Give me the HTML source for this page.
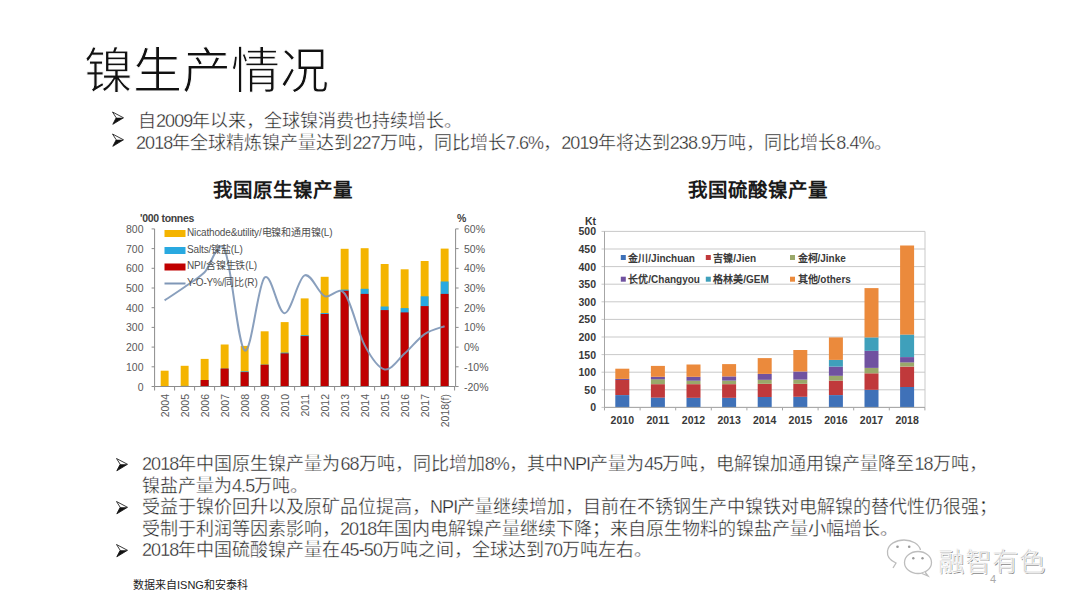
<!DOCTYPE html>
<html lang="zh-CN"><head><meta charset="utf-8">
<style>
html,body{margin:0;padding:0;background:#fff;}
body{width:1080px;height:608px;position:relative;overflow:hidden;font-family:"Liberation Sans",sans-serif;color:#1a1a1a;}
.abs{position:absolute;white-space:nowrap;}
.title{left:84px;top:41px;font-size:49px;font-weight:400;-webkit-text-stroke:1px #fff;color:#111;line-height:60px;letter-spacing:0px;}
.b{font-size:18px;line-height:22px;color:#1e1e1e;-webkit-text-stroke:0.35px #fff;}
.n{letter-spacing:-0.9px;}
.arr{position:absolute;width:12px;height:12px;}
svg{position:absolute;left:0;top:0;}
.lax{font-size:10.5px;fill:#595959;}
.lleg{font-size:10px;fill:#505050;letter-spacing:-0.15px;}
.lunit{font-size:10.5px;font-weight:bold;fill:#404040;letter-spacing:-0.3px;}
.ctitle{font-size:19.5px;font-weight:bold;color:#1a1a1a;line-height:22px;}
.rax{font-size:10.5px;font-weight:bold;fill:#383838;}
.rleg{font-size:10px;font-weight:bold;fill:#3a3a3a;}
.sf{font-family:"Liberation Serif",serif;font-weight:bold;}
.foot{left:133px;top:575.5px;font-size:11px;color:#222;}
.wm{left:938px;top:541px;font-size:26px;color:#cdcdcd;letter-spacing:1px;text-shadow:0.7px 0.7px 0 #888;-webkit-text-stroke:0.8px #fff;}
.pg{left:990px;top:573px;font-size:11px;color:#aaa;}
</style></head><body>
<div class="abs title">镍生产情况</div>
<svg width="1080" height="608" viewBox="0 0 1080 608">

<g transform="translate(112,111.5)"><path d="M0.5,0.5 L11.5,6.3 L0.8,12.8 L4.2,6.3 Z" fill="#fff" stroke="#222" stroke-width="0.9" stroke-linejoin="round"/><path d="M4.2,6.3 L11.5,6.3 L0.8,12.8 Z" fill="#111"/></g>
<g transform="translate(112,133.5)"><path d="M0.5,0.5 L11.5,6.3 L0.8,12.8 L4.2,6.3 Z" fill="#fff" stroke="#222" stroke-width="0.9" stroke-linejoin="round"/><path d="M4.2,6.3 L11.5,6.3 L0.8,12.8 Z" fill="#111"/></g>
<g transform="translate(116,458)"><path d="M0.5,0.5 L11.5,6.3 L0.8,12.8 L4.2,6.3 Z" fill="#fff" stroke="#222" stroke-width="0.9" stroke-linejoin="round"/><path d="M4.2,6.3 L11.5,6.3 L0.8,12.8 Z" fill="#111"/></g>
<g transform="translate(116,501)"><path d="M0.5,0.5 L11.5,6.3 L0.8,12.8 L4.2,6.3 Z" fill="#fff" stroke="#222" stroke-width="0.9" stroke-linejoin="round"/><path d="M4.2,6.3 L11.5,6.3 L0.8,12.8 Z" fill="#111"/></g>
<g transform="translate(116,544)"><path d="M0.5,0.5 L11.5,6.3 L0.8,12.8 L4.2,6.3 Z" fill="#fff" stroke="#222" stroke-width="0.9" stroke-linejoin="round"/><path d="M4.2,6.3 L11.5,6.3 L0.8,12.8 Z" fill="#111"/></g>
<rect x="160.7" y="370.7" width="7.9" height="15.8" fill="#F4B400"/>
<rect x="180.7" y="365.8" width="7.9" height="20.7" fill="#F4B400"/>
<rect x="180.7" y="385.9" width="7.9" height="0.6" fill="#29A9E0"/>
<rect x="180.7" y="386.1" width="7.9" height="0.4" fill="#C00000"/>
<rect x="200.7" y="358.9" width="7.9" height="27.6" fill="#F4B400"/>
<rect x="200.7" y="380" width="7.9" height="6.5" fill="#29A9E0"/>
<rect x="200.7" y="380" width="7.9" height="6.5" fill="#C00000"/>
<rect x="220.7" y="344.5" width="7.9" height="42" fill="#F4B400"/>
<rect x="220.7" y="368.6" width="7.9" height="17.9" fill="#29A9E0"/>
<rect x="220.7" y="368.6" width="7.9" height="17.9" fill="#C00000"/>
<rect x="240.7" y="345.9" width="7.9" height="40.6" fill="#F4B400"/>
<rect x="240.7" y="371.3" width="7.9" height="15.2" fill="#29A9E0"/>
<rect x="240.7" y="372.1" width="7.9" height="14.4" fill="#C00000"/>
<rect x="260.7" y="331.3" width="7.9" height="55.2" fill="#F4B400"/>
<rect x="260.7" y="364.6" width="7.9" height="21.9" fill="#29A9E0"/>
<rect x="260.7" y="364.8" width="7.9" height="21.7" fill="#C00000"/>
<rect x="280.7" y="322.1" width="7.9" height="64.4" fill="#F4B400"/>
<rect x="280.7" y="352.6" width="7.9" height="33.9" fill="#29A9E0"/>
<rect x="280.7" y="353.4" width="7.9" height="33.1" fill="#C00000"/>
<rect x="300.7" y="298.4" width="7.9" height="88.1" fill="#F4B400"/>
<rect x="300.7" y="335.1" width="7.9" height="51.4" fill="#29A9E0"/>
<rect x="300.7" y="336.1" width="7.9" height="50.4" fill="#C00000"/>
<rect x="320.7" y="276.8" width="7.9" height="109.7" fill="#F4B400"/>
<rect x="320.7" y="313" width="7.9" height="73.5" fill="#29A9E0"/>
<rect x="320.7" y="314" width="7.9" height="72.5" fill="#C00000"/>
<rect x="340.7" y="248.8" width="7.9" height="137.7" fill="#F4B400"/>
<rect x="340.7" y="289.6" width="7.9" height="96.9" fill="#29A9E0"/>
<rect x="340.7" y="290.8" width="7.9" height="95.7" fill="#C00000"/>
<rect x="360.7" y="248.2" width="7.9" height="138.3" fill="#F4B400"/>
<rect x="360.7" y="288.8" width="7.9" height="97.7" fill="#29A9E0"/>
<rect x="360.7" y="293.9" width="7.9" height="92.6" fill="#C00000"/>
<rect x="380.7" y="264" width="7.9" height="122.5" fill="#F4B400"/>
<rect x="380.7" y="306.5" width="7.9" height="80" fill="#29A9E0"/>
<rect x="380.7" y="310.1" width="7.9" height="76.4" fill="#C00000"/>
<rect x="400.7" y="269.3" width="7.9" height="117.2" fill="#F4B400"/>
<rect x="400.7" y="308.1" width="7.9" height="78.4" fill="#29A9E0"/>
<rect x="400.7" y="312.4" width="7.9" height="74.1" fill="#C00000"/>
<rect x="420.7" y="261" width="7.9" height="125.5" fill="#F4B400"/>
<rect x="420.7" y="296.3" width="7.9" height="90.2" fill="#29A9E0"/>
<rect x="420.7" y="306.1" width="7.9" height="80.4" fill="#C00000"/>
<rect x="440.7" y="248.6" width="7.9" height="137.9" fill="#F4B400"/>
<rect x="440.7" y="281.5" width="7.9" height="105" fill="#29A9E0"/>
<rect x="440.7" y="293.9" width="7.9" height="92.6" fill="#C00000"/>
<line x1="154.6" y1="228.9" x2="154.6" y2="386.5" stroke="#8C8C8C" stroke-width="1"/>
<line x1="154.6" y1="386.5" x2="455.6" y2="386.5" stroke="#8C8C8C" stroke-width="1"/>
<line x1="455.6" y1="228.9" x2="455.6" y2="386.5" stroke="#8C8C8C" stroke-width="1"/>
<line x1="151.6" y1="386.5" x2="154.6" y2="386.5" stroke="#8C8C8C"/>
<line x1="455.6" y1="386.5" x2="458.6" y2="386.5" stroke="#8C8C8C"/>
<text x="143.5" y="390.5" text-anchor="end" class="lax">0</text>
<text x="464" y="390.5" class="lax">-20%</text>
<line x1="151.6" y1="366.8" x2="154.6" y2="366.8" stroke="#8C8C8C"/>
<line x1="455.6" y1="366.8" x2="458.6" y2="366.8" stroke="#8C8C8C"/>
<text x="143.5" y="370.8" text-anchor="end" class="lax">100</text>
<text x="464" y="370.8" class="lax">-10%</text>
<line x1="151.6" y1="347.1" x2="154.6" y2="347.1" stroke="#8C8C8C"/>
<line x1="455.6" y1="347.1" x2="458.6" y2="347.1" stroke="#8C8C8C"/>
<text x="143.5" y="351.1" text-anchor="end" class="lax">200</text>
<text x="464" y="351.1" class="lax">0%</text>
<line x1="151.6" y1="327.4" x2="154.6" y2="327.4" stroke="#8C8C8C"/>
<line x1="455.6" y1="327.4" x2="458.6" y2="327.4" stroke="#8C8C8C"/>
<text x="143.5" y="331.4" text-anchor="end" class="lax">300</text>
<text x="464" y="331.4" class="lax">10%</text>
<line x1="151.6" y1="307.7" x2="154.6" y2="307.7" stroke="#8C8C8C"/>
<line x1="455.6" y1="307.7" x2="458.6" y2="307.7" stroke="#8C8C8C"/>
<text x="143.5" y="311.7" text-anchor="end" class="lax">400</text>
<text x="464" y="311.7" class="lax">20%</text>
<line x1="151.6" y1="288" x2="154.6" y2="288" stroke="#8C8C8C"/>
<line x1="455.6" y1="288" x2="458.6" y2="288" stroke="#8C8C8C"/>
<text x="143.5" y="292" text-anchor="end" class="lax">500</text>
<text x="464" y="292" class="lax">30%</text>
<line x1="151.6" y1="268.3" x2="154.6" y2="268.3" stroke="#8C8C8C"/>
<line x1="455.6" y1="268.3" x2="458.6" y2="268.3" stroke="#8C8C8C"/>
<text x="143.5" y="272.3" text-anchor="end" class="lax">600</text>
<text x="464" y="272.3" class="lax">40%</text>
<line x1="151.6" y1="248.6" x2="154.6" y2="248.6" stroke="#8C8C8C"/>
<line x1="455.6" y1="248.6" x2="458.6" y2="248.6" stroke="#8C8C8C"/>
<text x="143.5" y="252.6" text-anchor="end" class="lax">700</text>
<text x="464" y="252.6" class="lax">50%</text>
<line x1="151.6" y1="228.9" x2="154.6" y2="228.9" stroke="#8C8C8C"/>
<line x1="455.6" y1="228.9" x2="458.6" y2="228.9" stroke="#8C8C8C"/>
<text x="143.5" y="232.9" text-anchor="end" class="lax">800</text>
<text x="464" y="232.9" class="lax">60%</text>
<line x1="154.6" y1="386.5" x2="154.6" y2="390.5" stroke="#8C8C8C"/>
<line x1="174.6" y1="386.5" x2="174.6" y2="390.5" stroke="#8C8C8C"/>
<line x1="194.6" y1="386.5" x2="194.6" y2="390.5" stroke="#8C8C8C"/>
<line x1="214.6" y1="386.5" x2="214.6" y2="390.5" stroke="#8C8C8C"/>
<line x1="234.6" y1="386.5" x2="234.6" y2="390.5" stroke="#8C8C8C"/>
<line x1="254.6" y1="386.5" x2="254.6" y2="390.5" stroke="#8C8C8C"/>
<line x1="274.6" y1="386.5" x2="274.6" y2="390.5" stroke="#8C8C8C"/>
<line x1="294.6" y1="386.5" x2="294.6" y2="390.5" stroke="#8C8C8C"/>
<line x1="314.6" y1="386.5" x2="314.6" y2="390.5" stroke="#8C8C8C"/>
<line x1="334.6" y1="386.5" x2="334.6" y2="390.5" stroke="#8C8C8C"/>
<line x1="354.6" y1="386.5" x2="354.6" y2="390.5" stroke="#8C8C8C"/>
<line x1="374.6" y1="386.5" x2="374.6" y2="390.5" stroke="#8C8C8C"/>
<line x1="394.6" y1="386.5" x2="394.6" y2="390.5" stroke="#8C8C8C"/>
<line x1="414.6" y1="386.5" x2="414.6" y2="390.5" stroke="#8C8C8C"/>
<line x1="434.6" y1="386.5" x2="434.6" y2="390.5" stroke="#8C8C8C"/>
<line x1="454.6" y1="386.5" x2="454.6" y2="390.5" stroke="#8C8C8C"/>
<text transform="translate(168.6,394) rotate(-90)" text-anchor="end" class="lax">2004</text>
<text transform="translate(188.6,394) rotate(-90)" text-anchor="end" class="lax">2005</text>
<text transform="translate(208.6,394) rotate(-90)" text-anchor="end" class="lax">2006</text>
<text transform="translate(228.6,394) rotate(-90)" text-anchor="end" class="lax">2007</text>
<text transform="translate(248.6,394) rotate(-90)" text-anchor="end" class="lax">2008</text>
<text transform="translate(268.6,394) rotate(-90)" text-anchor="end" class="lax">2009</text>
<text transform="translate(288.6,394) rotate(-90)" text-anchor="end" class="lax">2010</text>
<text transform="translate(308.6,394) rotate(-90)" text-anchor="end" class="lax">2011</text>
<text transform="translate(328.6,394) rotate(-90)" text-anchor="end" class="lax">2012</text>
<text transform="translate(348.6,394) rotate(-90)" text-anchor="end" class="lax">2013</text>
<text transform="translate(368.6,394) rotate(-90)" text-anchor="end" class="lax">2014</text>
<text transform="translate(388.6,394) rotate(-90)" text-anchor="end" class="lax">2015</text>
<text transform="translate(408.6,394) rotate(-90)" text-anchor="end" class="lax">2016</text>
<text transform="translate(428.6,394) rotate(-90)" text-anchor="end" class="lax">2017</text>
<text transform="translate(448.6,394) rotate(-90)" text-anchor="end" class="lax">2018(f)</text>
<path d="M164.6,300.4 C167.9,298.2 177.9,291.7 184.6,287 C191.3,282.3 197.9,278.5 204.6,272.2 C211.3,266 217.9,236.6 224.6,249.6 C231.3,262.6 237.9,345.8 244.6,350.4 C251.3,355.1 257.9,283.8 264.6,277.6 C271.3,271.4 277.9,313.6 284.6,313.2 C291.3,312.9 297.9,278.2 304.6,275.4 C311.3,272.5 317.9,293.1 324.6,296.1 C331.3,299.1 337.9,285.3 344.6,293.5 C351.3,301.7 357.9,332.5 364.6,345.1 C371.3,357.8 377.9,367.9 384.6,369.4 C391.3,370.8 397.9,359.5 404.6,353.6 C411.3,347.7 417.9,338.7 424.6,334.1 C431.3,329.5 441.3,327.5 444.6,326.2" fill="none" stroke="#7F97B7" stroke-width="2" stroke-opacity="0.92"/>
<rect x="164.5" y="230" width="21" height="7" fill="#F4B400"/>
<rect x="164.5" y="247" width="21" height="7" fill="#29A9E0"/>
<rect x="164.5" y="263.5" width="21" height="7" fill="#C00000"/>
<line x1="164.5" y1="283.5" x2="185.5" y2="283.5" stroke="#7F97B7" stroke-width="2"/>
<text x="187" y="235.5" class="lleg">Nicathode&amp;utility/电镍和通用镍(L)</text>
<text x="187" y="252.5" class="lleg">Salts/镍盐(L)</text>
<text x="187" y="269" class="lleg">NPI/含镍生铁(L)</text>
<text x="187" y="285.5" class="lleg">Y-O-Y%/同比(R)</text>
<text x="140" y="222" class="lunit">'000 tonnes</text>
<text x="457" y="222" class="lunit">%</text>
<line x1="601.5" y1="407.4" x2="925" y2="407.4" stroke="#C9C9C9" stroke-width="1"/>
<text x="596" y="411.4" text-anchor="end" class="rax">0</text>
<line x1="601.5" y1="389.8" x2="925" y2="389.8" stroke="#C9C9C9" stroke-width="1"/>
<text x="596" y="393.8" text-anchor="end" class="rax">50</text>
<line x1="601.5" y1="372.2" x2="925" y2="372.2" stroke="#C9C9C9" stroke-width="1"/>
<text x="596" y="376.2" text-anchor="end" class="rax">100</text>
<line x1="601.5" y1="354.6" x2="925" y2="354.6" stroke="#C9C9C9" stroke-width="1"/>
<text x="596" y="358.6" text-anchor="end" class="rax">150</text>
<line x1="601.5" y1="337" x2="925" y2="337" stroke="#C9C9C9" stroke-width="1"/>
<text x="596" y="341" text-anchor="end" class="rax">200</text>
<line x1="601.5" y1="319.4" x2="925" y2="319.4" stroke="#C9C9C9" stroke-width="1"/>
<text x="596" y="323.4" text-anchor="end" class="rax">250</text>
<line x1="601.5" y1="301.8" x2="925" y2="301.8" stroke="#C9C9C9" stroke-width="1"/>
<text x="596" y="305.8" text-anchor="end" class="rax">300</text>
<line x1="601.5" y1="284.2" x2="925" y2="284.2" stroke="#C9C9C9" stroke-width="1"/>
<text x="596" y="288.2" text-anchor="end" class="rax">350</text>
<line x1="601.5" y1="266.6" x2="925" y2="266.6" stroke="#C9C9C9" stroke-width="1"/>
<text x="596" y="270.6" text-anchor="end" class="rax">400</text>
<line x1="601.5" y1="249" x2="925" y2="249" stroke="#C9C9C9" stroke-width="1"/>
<text x="596" y="253" text-anchor="end" class="rax">450</text>
<line x1="601.5" y1="231.4" x2="925" y2="231.4" stroke="#C9C9C9" stroke-width="1"/>
<text x="596" y="235.4" text-anchor="end" class="rax">500</text>
<line x1="925" y1="231.4" x2="925" y2="407.4" stroke="#C9C9C9"/>
<rect x="615.3" y="395.1" width="14" height="12.3" fill="#3F71B8"/>
<rect x="615.3" y="379.9" width="14" height="15.1" fill="#C0393B"/>
<rect x="615.3" y="378.9" width="14" height="1.1" fill="#7052A0"/>
<rect x="615.3" y="368.7" width="14" height="10.2" fill="#EB8A3C"/>
<text x="622.3" y="424" text-anchor="middle" class="rax">2010</text>
<rect x="650.9" y="397.5" width="14" height="9.9" fill="#3F71B8"/>
<rect x="650.9" y="384.2" width="14" height="13.4" fill="#C0393B"/>
<rect x="650.9" y="379.2" width="14" height="4.9" fill="#9AA86A"/>
<rect x="650.9" y="376.8" width="14" height="2.5" fill="#7052A0"/>
<rect x="650.9" y="365.9" width="14" height="10.9" fill="#EB8A3C"/>
<text x="657.9" y="424" text-anchor="middle" class="rax">2011</text>
<rect x="686.5" y="397.7" width="14" height="9.7" fill="#3F71B8"/>
<rect x="686.5" y="384.2" width="14" height="13.6" fill="#C0393B"/>
<rect x="686.5" y="380.6" width="14" height="3.5" fill="#9AA86A"/>
<rect x="686.5" y="376.8" width="14" height="3.9" fill="#7052A0"/>
<rect x="686.5" y="364.5" width="14" height="12.3" fill="#EB8A3C"/>
<text x="693.5" y="424" text-anchor="middle" class="rax">2012</text>
<rect x="722.1" y="397.7" width="14" height="9.7" fill="#3F71B8"/>
<rect x="722.1" y="384.2" width="14" height="13.6" fill="#C0393B"/>
<rect x="722.1" y="380.6" width="14" height="3.5" fill="#9AA86A"/>
<rect x="722.1" y="376.4" width="14" height="4.2" fill="#7052A0"/>
<rect x="722.1" y="364.1" width="14" height="12.3" fill="#EB8A3C"/>
<text x="729.1" y="424" text-anchor="middle" class="rax">2013</text>
<rect x="757.7" y="397" width="14" height="10.4" fill="#3F71B8"/>
<rect x="757.7" y="383.8" width="14" height="13.2" fill="#C0393B"/>
<rect x="757.7" y="379.7" width="14" height="4.1" fill="#9AA86A"/>
<rect x="757.7" y="374" width="14" height="5.8" fill="#7052A0"/>
<rect x="757.7" y="358.1" width="14" height="15.8" fill="#EB8A3C"/>
<text x="764.7" y="424" text-anchor="middle" class="rax">2014</text>
<rect x="793.3" y="396.8" width="14" height="10.6" fill="#3F71B8"/>
<rect x="793.3" y="383.8" width="14" height="13" fill="#C0393B"/>
<rect x="793.3" y="379.6" width="14" height="4.2" fill="#9AA86A"/>
<rect x="793.3" y="371.5" width="14" height="8.1" fill="#7052A0"/>
<rect x="793.3" y="350" width="14" height="21.5" fill="#EB8A3C"/>
<text x="800.3" y="424" text-anchor="middle" class="rax">2015</text>
<rect x="828.9" y="395.1" width="14" height="12.3" fill="#3F71B8"/>
<rect x="828.9" y="380.6" width="14" height="14.4" fill="#C0393B"/>
<rect x="828.9" y="375.7" width="14" height="4.9" fill="#9AA86A"/>
<rect x="828.9" y="366.6" width="14" height="9.2" fill="#7052A0"/>
<rect x="828.9" y="359.9" width="14" height="6.7" fill="#3FA0BB"/>
<rect x="828.9" y="337.4" width="14" height="22.5" fill="#EB8A3C"/>
<text x="835.9" y="424" text-anchor="middle" class="rax">2016</text>
<rect x="864.5" y="389.8" width="14" height="17.6" fill="#3F71B8"/>
<rect x="864.5" y="373.3" width="14" height="16.5" fill="#C0393B"/>
<rect x="864.5" y="368" width="14" height="5.3" fill="#9AA86A"/>
<rect x="864.5" y="350.7" width="14" height="17.2" fill="#7052A0"/>
<rect x="864.5" y="337.4" width="14" height="13.4" fill="#3FA0BB"/>
<rect x="864.5" y="288.1" width="14" height="49.3" fill="#EB8A3C"/>
<text x="871.5" y="424" text-anchor="middle" class="rax">2017</text>
<rect x="900.1" y="387" width="14" height="20.4" fill="#3F71B8"/>
<rect x="900.1" y="366.6" width="14" height="20.4" fill="#C0393B"/>
<rect x="900.1" y="362.3" width="14" height="4.2" fill="#9AA86A"/>
<rect x="900.1" y="357.1" width="14" height="5.3" fill="#7052A0"/>
<rect x="900.1" y="334.5" width="14" height="22.5" fill="#3FA0BB"/>
<rect x="900.1" y="245.5" width="14" height="89.1" fill="#EB8A3C"/>
<text x="907.1" y="424" text-anchor="middle" class="rax">2018</text>
<line x1="604.5" y1="231.4" x2="604.5" y2="407.4" stroke="#A6A6A6"/>
<line x1="604.5" y1="407.4" x2="925" y2="407.4" stroke="#A6A6A6"/>
<line x1="604.5" y1="407.4" x2="604.5" y2="410.4" stroke="#A6A6A6"/>
<line x1="640.1" y1="407.4" x2="640.1" y2="410.4" stroke="#A6A6A6"/>
<line x1="675.7" y1="407.4" x2="675.7" y2="410.4" stroke="#A6A6A6"/>
<line x1="711.3" y1="407.4" x2="711.3" y2="410.4" stroke="#A6A6A6"/>
<line x1="746.9" y1="407.4" x2="746.9" y2="410.4" stroke="#A6A6A6"/>
<line x1="782.5" y1="407.4" x2="782.5" y2="410.4" stroke="#A6A6A6"/>
<line x1="818.1" y1="407.4" x2="818.1" y2="410.4" stroke="#A6A6A6"/>
<line x1="853.7" y1="407.4" x2="853.7" y2="410.4" stroke="#A6A6A6"/>
<line x1="889.3" y1="407.4" x2="889.3" y2="410.4" stroke="#A6A6A6"/>
<line x1="924.9" y1="407.4" x2="924.9" y2="410.4" stroke="#A6A6A6"/>
<text x="596" y="225" text-anchor="end" class="rax">Kt</text>
<rect x="620.8" y="255" width="5" height="5" fill="#3F71B8"/>
<text x="628.3" y="261.5" class="rleg"><tspan class="sf">金川</tspan>/Jinchuan</text>
<rect x="705.8" y="255" width="5" height="5" fill="#C0393B"/>
<text x="713.3" y="261.5" class="rleg"><tspan class="sf">吉镍</tspan>/Jien</text>
<rect x="790" y="255" width="5" height="5" fill="#9AA86A"/>
<text x="797.5" y="261.5" class="rleg"><tspan class="sf">金柯</tspan>/Jinke</text>
<rect x="620.8" y="276.7" width="5" height="5" fill="#7052A0"/>
<text x="628.3" y="283.2" class="rleg"><tspan class="sf">长优</tspan>/Changyou</text>
<rect x="705.8" y="276.7" width="5" height="5" fill="#3FA0BB"/>
<text x="713.3" y="283.2" class="rleg"><tspan class="sf">格林美</tspan>/GEM</text>
<rect x="790" y="276.7" width="5" height="5" fill="#EB8A3C"/>
<text x="797.5" y="283.2" class="rleg"><tspan class="sf">其他</tspan>/others</text>
<g fill="none" stroke="#bdbdbd" stroke-width="1.3">
<path d="M893,568 L896,563 C889,560 887,555 887.5,551 C888.5,544 896,540 904,540 C912,540 919,544 920.5,550"/>
<ellipse cx="918" cy="562.5" rx="13.5" ry="11" fill="#fff"/>
<path d="M925,572 L928,576 L922,573.5" fill="#fff"/>
</g>
<g fill="#9a9a9a"><circle cx="897.5" cy="546.7" r="1.3"/><circle cx="909.2" cy="546.7" r="1.3"/><circle cx="913.3" cy="558.3" r="1.2"/><circle cx="922.5" cy="558.3" r="1.2"/></g>
</svg>
<div class="abs b" style="left:138px;top:109.5px">自<span class="n">2009</span>年以来，全球镍消费也持续增长。</div>
<div class="abs b" style="left:136px;top:132px"><span class="n">2018</span>年全球精炼镍产量达到<span class="n">227</span>万吨，同比增长<span class="n">7.6%</span>，<span class="n">2019</span>年将达到<span class="n">238.9</span>万吨，同比增长<span class="n">8.4%</span>。</div>
<div class="abs b" style="left:142px;top:453px"><span class="n">2018</span>年中国原生镍产量为<span class="n">68</span>万吨，同比增加<span class="n">8%</span>，其中<span class="n">NPI</span>产量为<span class="n">45</span>万吨，电解镍加通用镍产量降至<span class="n">18</span>万吨，<br>镍盐产量为<span class="n">4.5</span>万吨。</div>
<div class="abs b" style="left:142px;top:496px">受益于镍价回升以及原矿品位提高，<span class="n">NPI</span>产量继续增加，目前在不锈钢生产中镍铁对电解镍的替代性仍很强；<br>受制于利润等因素影响，<span class="n">2018</span>年国内电解镍产量继续下降；来自原生物料的镍盐产量小幅增长。</div>
<div class="abs b" style="left:142px;top:539px"><span class="n">2018</span>年中国硫酸镍产量在<span class="n">45-50</span>万吨之间，全球达到<span class="n">70</span>万吨左右。</div>
<div class="abs ctitle" style="left:213px;top:179px">我国原生镍产量</div>
<div class="abs ctitle" style="left:687.5px;top:179px">我国硫酸镍产量</div>
<div class="abs foot">数据来自ISNG和安泰科</div>
<div class="abs wm">融智有色</div>
<div class="abs pg">4</div>
</body></html>
